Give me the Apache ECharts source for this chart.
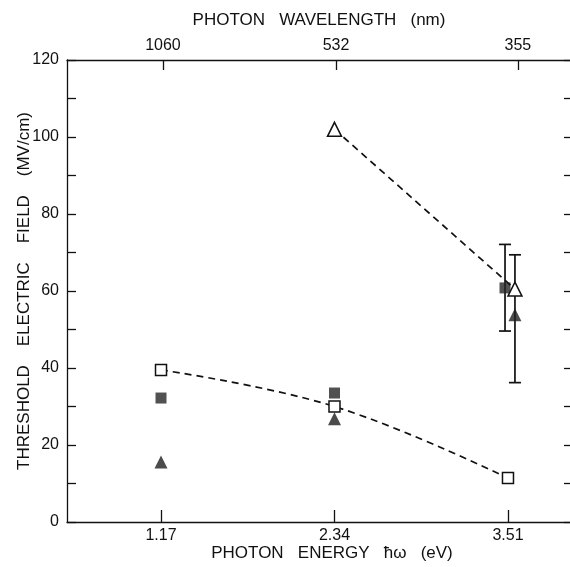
<!DOCTYPE html>
<html>
<head>
<meta charset="utf-8">
<script src="https://cdn.jsdelivr.net/npm/echarts@6/dist/echarts.min.js"></script>
<style>
  html, body { margin: 0; padding: 0; background: #fff; }
  #chart { width: 570px; height: 567px; }
</style>
</head>
<body>
<div id="chart"></div>
<script>
// Photon energy ticks (eV) on the bottom axis
const energyTicks = [1.17, 2.34, 3.51];
// Wavelength ticks on the top axis and the energy position of each
const wavelengthLabels = ['1060', '532', '355'];
const wavelengthTickEnergy = [1.183, 2.35, 3.577];

// Threshold electric field (MV/cm) vs photon energy (eV)
const openSquares = [[1.17, 39.5], [2.34, 30.0], [3.51, 11.4]];
const openTriangles = [[2.34, 102.0], [3.557, 60.5]];
const filledSquares = [[1.17, 32.2], [2.34, 33.5], [3.49, 60.8]];
const filledTriangles = [[1.17, 15.6], [2.34, 26.8], [3.557, 53.8]];

// Error bars: [energy, low, high]
const errorBars = [[3.49, 49.6, 72.1], [3.557, 36.2, 69.4]];

const ink = '#111';
const font = 'Liberation Sans';

const chart = echarts.init(document.getElementById('chart'));

const tickText = { color: ink, fontFamily: font, fontSize: 16 };
const titleText = { color: ink, fontFamily: font, fontSize: 17 };

chart.setOption({
  animation: false,
  backgroundColor: '#fff',
  grid: { left: 67, top: 60, width: 504, height: 462, containLabel: false, outerBoundsMode: 'none' },
  xAxis: [
    {
      type: 'value', position: 'bottom', min: 0.536, max: 3.935,
      name: 'PHOTON   ENERGY   ħω   (eV)', nameLocation: 'middle', nameGap: 23, nameMoveOverlap: false,
      nameTextStyle: Object.assign({}, titleText, { padding: [0, 0, 0, 26] }),
      axisLine: { onZero: false, lineStyle: { color: ink, width: 1.3 } },
      axisTick: { inside: true, length: 12, customValues: energyTicks, lineStyle: { color: ink, width: 1.3 } },
      axisLabel: Object.assign({}, tickText, { margin: 6, customValues: energyTicks,
        formatter: v => v.toFixed(2) }),
      splitLine: { show: false }
    },
    {
      type: 'value', position: 'top', min: 0.536, max: 3.935,
      name: 'PHOTON   WAVELENGTH   (nm)', nameLocation: 'middle', nameGap: 31, nameMoveOverlap: false,
      nameTextStyle: titleText,
      axisLine: { onZero: false, lineStyle: { color: ink, width: 1.3 } },
      axisTick: { inside: true, length: 10, customValues: wavelengthTickEnergy, lineStyle: { color: ink, width: 1.3 } },
      axisLabel: Object.assign({}, tickText, { margin: 6, customValues: wavelengthTickEnergy,
        formatter: v => {
          const i = wavelengthTickEnergy.findIndex(e => Math.abs(e - v) < 1e-6);
          return i >= 0 ? wavelengthLabels[i] : '';
        } }),
      splitLine: { show: false }
    }
  ],
  yAxis: [
    {
      type: 'value', position: 'left', min: 0, max: 120, interval: 20,
      name: 'THRESHOLD    ELECTRIC    FIELD    (MV/cm)', nameLocation: 'middle', nameGap: 34, nameMoveOverlap: false,
      nameRotate: 90, nameTextStyle: titleText,
      axisLine: { show: true, onZero: false, lineStyle: { color: ink, width: 1.3 } },
      axisTick: { inside: true, length: 9, lineStyle: { color: ink, width: 1.3 } },
      minorTick: { show: true, splitNumber: 2, length: 9, lineStyle: { color: ink, width: 1.3 } },
      axisLabel: Object.assign({}, tickText, { margin: 8 }),
      splitLine: { show: false }
    },
    {
      type: 'value', position: 'right', min: 0, max: 120, interval: 10,
      axisLine: { show: true, onZero: false, lineStyle: { color: ink, width: 1.3 } },
      axisTick: { inside: true, length: 7, lineStyle: { color: ink, width: 1.3 } },
      axisLabel: { show: false },
      splitLine: { show: false }
    }
  ],
  series: [
    {
      type: 'custom', name: 'error', xAxisIndex: 0, yAxisIndex: 0, z: 1,
      data: errorBars,
      renderItem: (params, api) => {
        const x = api.value(0);
        const lo = api.coord([x, api.value(1)]);
        const hi = api.coord([x, api.value(2)]);
        const cap = 6;
        const style = { stroke: ink, lineWidth: 1.7 };
        return {
          type: 'group',
          children: [
            { type: 'line', shape: { x1: lo[0], y1: lo[1], x2: hi[0], y2: hi[1] }, style },
            { type: 'line', shape: { x1: lo[0] - cap, y1: lo[1], x2: lo[0] + cap, y2: lo[1] }, style },
            { type: 'line', shape: { x1: hi[0] - cap, y1: hi[1], x2: hi[0] + cap, y2: hi[1] }, style }
          ]
        };
      }
    },
    {
      type: 'scatter', name: 'filled squares', z: 3,
      data: filledSquares, symbol: 'rect', symbolSize: 11,
      itemStyle: { color: '#262626' }
    },
    {
      type: 'line', name: 'open squares', z: 4,
      data: openSquares, smooth: 0.4,
      symbol: 'rect', symbolSize: 11, showAllSymbol: true,
      lineStyle: { color: ink, width: 1.7, type: [7, 5] },
      itemStyle: { color: '#fff', borderColor: ink, borderWidth: 1.5 }
    },
    {
      type: 'scatter', name: 'filled triangles', z: 3,
      data: filledTriangles, symbol: 'triangle', symbolSize: 13,
      itemStyle: { color: '#1e1e1e' }
    },
    {
      type: 'line', name: 'open triangles', z: 4,
      data: openTriangles,
      symbol: 'triangle', symbolSize: 14, showAllSymbol: true,
      lineStyle: { color: ink, width: 1.7, type: [7, 5] },
      itemStyle: { color: '#fff', borderColor: ink, borderWidth: 1.5 }
    }
  ]
});
</script>
</body>
</html>
